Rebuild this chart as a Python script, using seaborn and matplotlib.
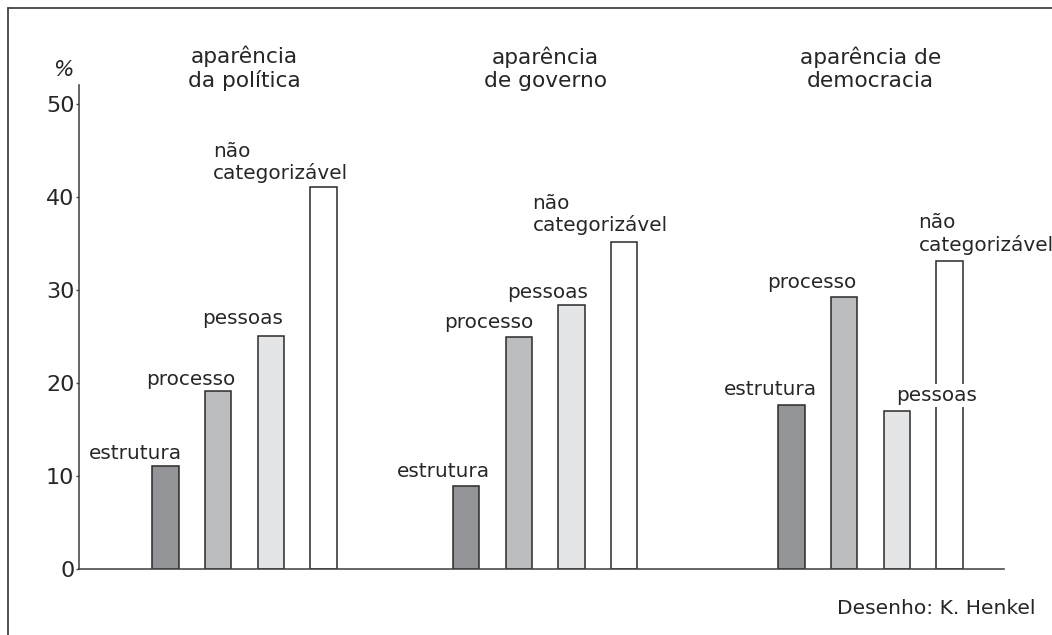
import numpy as np
import pandas as pd
import seaborn as sns
import matplotlib
matplotlib.use("Agg")
import matplotlib.pyplot as plt
from matplotlib.lines import Line2D

# ---- data ----
groups = ["aparência\nda política", "aparência\nde governo", "aparência de\ndemocracia"]
categories = ["estrutura", "processo", "pessoas", "não\ncategorizável"]
values_politica = [11.0, 19.1, 25.0, 41.0]
values_governo = [8.9, 24.9, 28.3, 35.1]
values_democracia = [17.6, 29.2, 17.0, 33.1]
yticks = [0, 10, 20, 30, 40, 50]
ylabel = "%"
credit = "Desenho: K. Henkel"

# ---- styling / layout ----
colors = ["#939498", "#bcbdbf", "#e4e5e7", "#ffffff"]
group_start = [1.641, 7.343, 13.52]   # x position of first bar in each group
# label offsets (pixels): left edge relative to bar centre, baseline above bar top
label_offsets = [
    [(-76.5, 7), (-72.5, 6), (-68.5, 12), (-110.5, 8)],
    [(-69, 9), (-75, 9), (-64.5, 7), (-91.5, 11)],
    [(-67.5, 10), (-77, 9), (-1, 10), (-31, 10)],
]
text_color = "#262626"

sns.set_theme(style="white")
plt.rcParams["font.family"] = ["DejaVu Sans"]

series = [values_politica, values_governo, values_democracia]
rows = []
for g, vals in enumerate(series):
    for i, (cat, v) in enumerate(zip(categories, vals)):
        rows.append({"group": groups[g], "category": cat, "value": v,
                     "pos": group_start[g] + i})
df = pd.DataFrame(rows)

fig = plt.figure(figsize=(10.52, 6.35), dpi=100)
ax = fig.add_axes([79 / 1052, 66.3 / 635, 925 / 1052, 483.7 / 635])

sns.barplot(data=df, x="pos", y="value", hue="category", hue_order=categories,
            palette=dict(zip(categories, colors)), native_scale=True, dodge=False,
            width=0.5, edgecolor="#2a2a2a", linewidth=1.1, errorbar=None,
            legend=False, ax=ax, saturation=1)

ax.set_xlim(0, 925 / 52.7)
ax.set_ylim(0, 52)
ax.set_yticks(yticks)
ax.set_yticklabels([str(t) for t in yticks], fontsize=16, color=text_color)
ax.set_xticks([])
ax.set_xlabel("")
ax.set_ylabel("")
ax.tick_params(axis="y", left=True, length=2.5, width=1, color="#444", pad=0.8)
for side in ["top", "right"]:
    ax.spines[side].set_visible(False)
for side in ["left", "bottom"]:
    ax.spines[side].set_color("#444")
    ax.spines[side].set_linewidth(1.15)
ax.patch.set_alpha(0)

# bar labels
for g, vals in enumerate(series):
    for i, (cat, v) in enumerate(zip(categories, vals)):
        dx, dy = label_offsets[g][i]
        kw = {}
        if g == 2 and i == 2:
            kw["bbox"] = dict(facecolor="white", edgecolor="none", pad=1.5)
        ax.annotate(cat, xy=(group_start[g] + i, v), xytext=(dx, dy),
                    textcoords="offset pixels", ha="left", va="baseline",
                    fontsize=14.4, linespacing=1.16, color=text_color,
                    annotation_clip=False, zorder=5, **kw)

# group titles
for g, title in enumerate(groups):
    ax.text(group_start[g] + 1.5, (568.7 - 87) / 9.30, title, ha="center",
            va="baseline", fontsize=15.6, linespacing=1.18, color=text_color,
            clip_on=False)

fig.text(63 / 1052, 1 - 76.5 / 635, ylabel, ha="center", va="baseline",
         fontsize=15.5, style="italic", color=text_color)
fig.text(837 / 1052, 1 - 614 / 635, credit, ha="left", va="baseline",
         fontsize=14.6, color=text_color)

# outer frame (top and left)
fx, fy = 8 / 1052, 1 - 8 / 635
fig.add_artist(Line2D([fx, 1.0], [fy, fy], transform=fig.transFigure,
                      color="#333", linewidth=1.2))
fig.add_artist(Line2D([fx, fx], [fy, 0.0], transform=fig.transFigure,
                      color="#333", linewidth=1.2))

fig.savefig("out.png", dpi=100)
